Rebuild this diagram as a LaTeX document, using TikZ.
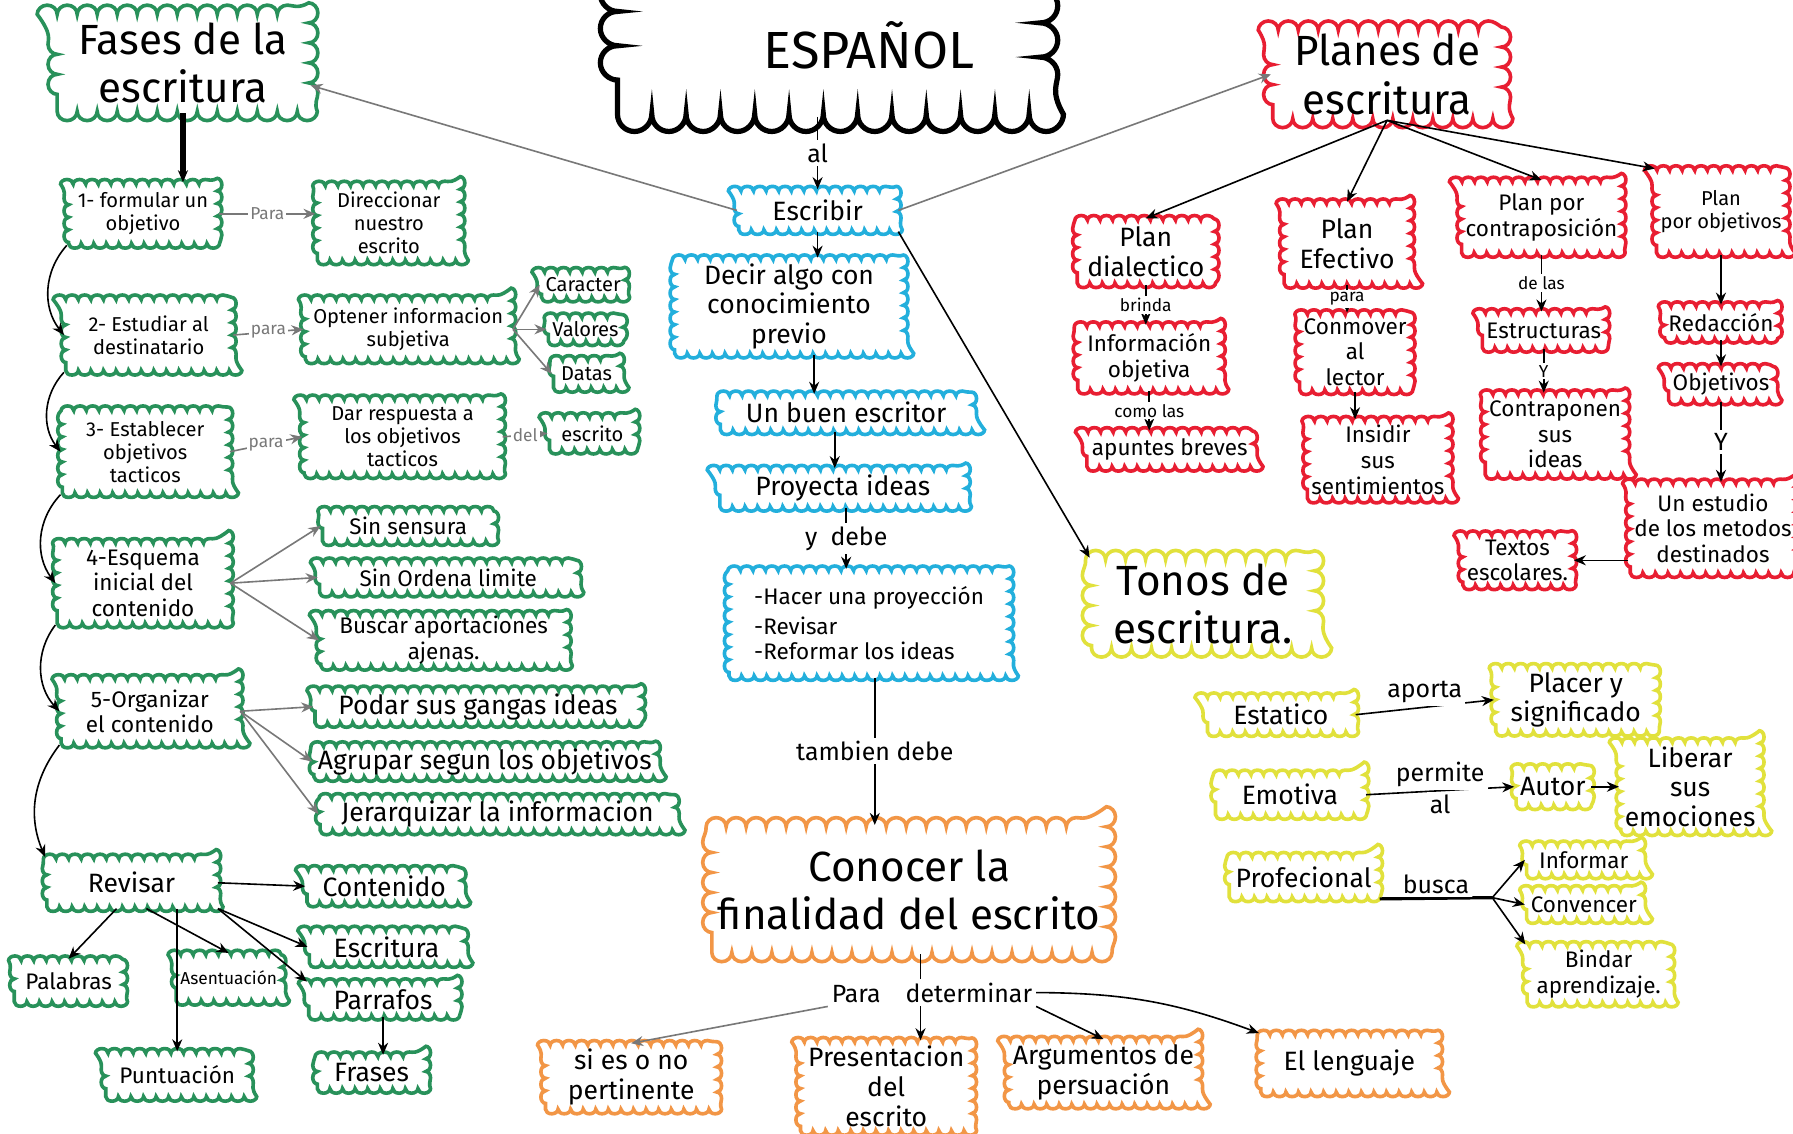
\documentclass[tikz,border=0pt]{standalone}
\usepackage{fontspec}
\setmainfont{Fira Sans}
\usetikzlibrary{decorations.pathmorphing,arrows.meta}

\definecolor{verde}{RGB}{40,145,90}
\definecolor{azul}{RGB}{35,175,220}
\definecolor{rojo}{RGB}{232,30,50}
\definecolor{amarillo}{RGB}{225,225,60}
\definecolor{naranja}{RGB}{242,150,70}
\definecolor{gris}{RGB}{120,120,120}

\begin{document}
\begin{tikzpicture}[
  bubble/.style={draw, line width=0.9pt, fill=white, decorate,
    decoration={bumps, mirror, segment length=2.2mm, amplitude=0.4mm},
    align=center, inner sep=1pt, font=\fontsize{5.6}{6.4}\selectfont},
  fase/.style={bubble, draw=verde},
  escr/.style={bubble, draw=azul},
  plan/.style={bubble, draw=rojo},
  tono/.style={bubble, draw=amarillo},
  fin/.style={bubble, draw=naranja},
  grande/.style={font=\fontsize{10.5}{12}\selectfont, decoration={segment length=3.5mm, amplitude=0.8mm}},
  medio/.style={font=\fontsize{6.6}{7.4}\selectfont},
  chico/.style={font=\fontsize{5}{5.7}\selectfont},
  etiq/.style={font=\fontsize{4.3}{5}\selectfont, inner sep=0.5pt, fill=white},
  etiqm/.style={font=\fontsize{6.2}{7}\selectfont, inner sep=0.8pt, fill=white},
  flecha/.style={-{Stealth[length=3pt,width=2.5pt]}, line width=0.4pt},
]
\clip (0,0) rectangle (15.68,-9.91);
\fill[white] (0,0) rectangle (15.68,-9.91);

% titulo
\node[bubble, draw=black, line width=1.3pt, minimum width=3.7cm, minimum height=2cm,
  decoration={segment length=6mm, amplitude=1.5mm}] (tema) at (7.25,0) {};
\node[font=\fontsize{13}{14}\selectfont] (espanol) at (7.6,-0.40) {ESPAÑOL};
\node[escr, medio, minimum width=1.38cm, minimum height=0.34cm] (escribir) at (7.15,-1.84) {Escribir};

% fases de la escritura
\node[fase, grande, minimum width=2.2cm, minimum height=0.85cm] (fases) at (1.60,-0.55) {Fases de la\\escritura};
\node[fase, chico, minimum width=1.3cm, minimum height=0.52cm] (f1) at (1.25,-1.87) {1- formular un\\objetivo};
\node[fase, chico, minimum width=1.25cm, minimum height=0.65cm] (direccionar) at (3.40,-1.95) {Direccionar\\nuestro\\escrito};
\node[fase, chico, minimum width=1.45cm, minimum height=0.62cm] (f2) at (1.30,-2.93) {2- Estudiar al\\destinatario};
\node[fase, chico, minimum width=1.8cm, minimum height=0.52cm] (optener) at (3.57,-2.88) {Optener informacion\\subjetiva};
\node[fase, chico, minimum width=0.65cm, minimum height=0.22cm] (caracter) at (5.10,-2.49) {Caracter};
\node[fase, chico, minimum width=0.65cm, minimum height=0.2cm] (valores) at (5.12,-2.88) {Valores};
\node[fase, chico, minimum width=0.58cm, minimum height=0.24cm] (datas) at (5.13,-3.27) {Datas};
\node[fase, chico, minimum width=1.45cm, minimum height=0.72cm] (f3) at (1.27,-3.95) {3- Establecer\\objetivos\\tacticos};
\node[fase, chico, minimum width=1.72cm, minimum height=0.65cm] (dar) at (3.52,-3.82) {Dar respuesta a\\los objetivos\\tacticos};
\node[fase, chico, minimum width=0.75cm, minimum height=0.28cm] (escritoA) at (5.18,-3.79) {escrito};
\node[fase, minimum width=1.5cm, minimum height=0.7cm] (f4) at (1.25,-5.10) {4-Esquema\\inicial del\\contenido};
\node[fase, inner ysep=0.5pt, minimum width=1.5cm, minimum height=0.26cm] (sinsensura) at (3.57,-4.60) {Sin sensura};
\node[fase, inner ysep=0.5pt, minimum width=2.25cm, minimum height=0.26cm] (sinorden) at (3.92,-5.05) {Sin Ordena limite};
\node[fase, inner ysep=0.3pt, minimum width=2.15cm, minimum height=0.36cm] (buscar) at (3.88,-5.60) {Buscar aportaciones\\ajenas.};
\node[fase, minimum width=1.55cm, minimum height=0.56cm] (f5) at (1.31,-6.22) {5-Organizar\\el contenido};
\node[fase, medio, inner ysep=0.5pt, minimum width=2.85cm, minimum height=0.28cm] (podar) at (4.18,-6.18) {Podar sus gangas ideas};
\node[fase, medio, inner ysep=0.5pt, minimum width=2.9cm, minimum height=0.26cm] (agrupar) at (4.24,-6.66) {Agrupar segun los objetivos};
\node[fase, medio, inner ysep=0.5pt, minimum width=3.1cm, minimum height=0.28cm] (jerarquizar) at (4.35,-7.12) {Jerarquizar la informacion};
\node[fase, medio, minimum width=1.48cm, minimum height=0.42cm] (revisar) at (1.15,-7.72) {Revisar};
\node[fase, medio, minimum width=1.35cm, minimum height=0.28cm] (contenido) at (3.36,-7.75) {Contenido};
\node[fase, medio, minimum width=1.35cm, minimum height=0.28cm] (escritura) at (3.38,-8.28) {Escritura};
\node[fase, medio, minimum width=1.3cm, minimum height=0.28cm] (parrafos) at (3.35,-8.74) {Parrafos};
\node[fase, medio, minimum width=0.95cm, minimum height=0.28cm] (frases) at (3.25,-9.38) {Frases};
\node[fase, minimum width=0.95cm, minimum height=0.36cm] (palabras) at (0.60,-8.58) {Palabras};
\node[fase, font=\fontsize{4.3}{5}\selectfont, minimum width=0.92cm, minimum height=0.4cm] (acentuacion) at (2.00,-8.55) {Asentuación};
\node[fase, minimum width=1.25cm, minimum height=0.38cm] (puntuacion) at (1.55,-9.40) {Puntuación};

% escribir
\node[escr, medio, minimum width=2.0cm, minimum height=0.78cm] (decir) at (6.90,-2.68) {Decir algo con\\conocimiento\\previo};
\node[escr, medio, minimum width=2.2cm, minimum height=0.3cm] (buen) at (7.40,-3.61) {Un buen escritor};
\node[escr, medio, minimum width=2.15cm, minimum height=0.32cm] (proyecta) at (7.37,-4.27) {Proyecta ideas};
\node[escr, align=left, minimum width=2.45cm, minimum height=0.92cm] (hacer) at (7.60,-5.45) {-Hacer una proyección\\[1pt]-Revisar\\-Reformar los ideas};

% finalidad
\node[fin, grande, minimum width=3.45cm, minimum height=1.1cm] (conocer) at (7.95,-7.78) {Conocer la\\finalidad del escrito};
\node[etiqm] (paradet) at (8.15,-8.68) {Para\quad determinar};
\node[fin, medio, minimum width=1.5cm, minimum height=0.5cm] (pertinente) at (5.52,-9.42) {si es o no\\pertinente};
\node[fin, medio, minimum width=1.5cm, minimum height=0.7cm] (presentacion) at (7.75,-9.50) {Presentacion\\del\\escrito};
\node[fin, medio, minimum width=1.65cm, minimum height=0.55cm] (argumentos) at (9.65,-9.38) {Argumentos de\\persuación};
\node[fin, medio, minimum width=1.55cm, minimum height=0.5cm] (lenguaje) at (11.80,-9.30) {El lenguaje};

% planes de escritura
\node[plan, grande, minimum width=2.0cm, minimum height=0.72cm] (planes) at (12.13,-0.65) {Planes de\\escritura};
\node[plan, medio, minimum width=1.2cm, minimum height=0.55cm] (pdial) at (10.02,-2.20) {Plan\\dialectico};
\node[plan, medio, minimum width=1.1cm, minimum height=0.7cm] (pefec) at (11.78,-2.13) {Plan\\Efectivo};
\node[plan, minimum width=1.25cm, minimum height=0.62cm] (pcontra) at (13.48,-1.90) {Plan por\\contraposición};
\node[plan, chico, minimum width=1.1cm, minimum height=0.72cm] (pobj) at (15.05,-1.85) {Plan\\por objetivos};
\node[plan, minimum width=1.25cm, minimum height=0.55cm] (info) at (10.05,-3.13) {Información\\objetiva};
\node[plan, minimum width=1.45cm, minimum height=0.3cm] (apuntes) at (10.23,-3.93) {apuntes breves};
\node[plan, minimum width=0.9cm, minimum height=0.6cm] (conmover) at (11.85,-3.08) {Conmover\\al\\lector};
\node[plan, minimum width=1.1cm, minimum height=0.65cm] (insidir) at (12.05,-4.02) {Insidir\\sus\\sentimientos};
\node[plan, minimum width=1.05cm, minimum height=0.3cm] (estructuras) at (13.50,-2.89) {Estructuras};
\node[plan, minimum width=1.05cm, minimum height=0.7cm] (contraponen) at (13.60,-3.80) {Contraponen\\sus\\ideas};
\node[plan, minimum width=0.95cm, minimum height=0.28cm] (redaccion) at (15.05,-2.82) {Redacción};
\node[plan, minimum width=0.88cm, minimum height=0.28cm] (objetivos) at (15.05,-3.36) {Objetivos};
\node[plan, minimum width=1.35cm, minimum height=0.78cm] (estudio) at (14.98,-4.62) {Un estudio\\de los metodos\\destinados};
\node[plan, minimum width=0.72cm, minimum height=0.4cm] (textos) at (13.27,-4.90) {Textos\\escolares.};

% tonos de escritura
\node[tono, grande, minimum width=1.95cm, minimum height=0.7cm] (tonos) at (10.52,-5.28) {Tonos de\\escritura.};
\node[tono, medio, minimum width=1.28cm, minimum height=0.3cm] (estatico) at (11.20,-6.25) {Estatico};
\node[tono, medio, minimum width=1.4cm, minimum height=0.5cm] (placer) at (13.78,-6.12) {Placer y\\significado};
\node[tono, medio, minimum width=1.3cm, minimum height=0.35cm] (emotiva) at (11.28,-6.95) {Emotiva};
\node[tono, medio, minimum width=0.62cm, minimum height=0.32cm] (autor) at (13.58,-6.88) {Autor};
\node[tono, medio, minimum width=1.1cm, minimum height=0.62cm] (liberar) at (14.78,-6.88) {Liberar\\sus\\emociones};
\node[tono, medio, minimum width=1.3cm, minimum height=0.35cm] (profecional) at (11.40,-7.67) {Profecional};
\node[tono, minimum width=1.0cm, minimum height=0.25cm] (informar) at (13.85,-7.52) {Informar};
\node[tono, minimum width=1.0cm, minimum height=0.25cm] (convencer) at (13.85,-7.91) {Convencer};
\node[tono, minimum width=1.25cm, minimum height=0.45cm] (bindar) at (13.98,-8.52) {Bindar\\aprendizaje.};
\coordinate (rama) at (13.05,-7.85);

% conectores del centro
\draw[flecha] (escribir.north |- tema.south) -- (escribir.north) node[midway, etiqm]{al};
\draw[flecha, gris] (escribir.west) -- (fases.-10);
\draw[flecha, gris] (escribir.east) -- (planes.west);
\draw[flecha] (escribir.south east) -- (tonos.north west);
\draw[flecha] (escribir.south) -- (escribir.south |- decir.north);
\draw[flecha] (decir.south -| 7.12,0) -- (buen.north -| 7.12,0);
\draw[flecha] (buen.south -| 7.30,0) -- (proyecta.north -| 7.30,0);
\draw[flecha] (proyecta.south -| 7.40,0) -- (hacer.north -| 7.40,0) node[midway, etiqm]{y\ \ debe};
\draw[flecha] (hacer.south -| 7.65,0) -- (conocer.north -| 7.65,0) node[midway, etiqm]{tambien debe};
\draw (conocer.south -| 8.05,0) -- (paradet.north -| 8.05,0);
\draw[flecha] (paradet.south -| 8.05,0) -- (presentacion.north -| 8.05,0);
\draw[flecha, gris] (paradet.south west) -- (pertinente.north);
\draw[flecha] (paradet.south east) -- (argumentos.north);
\draw[flecha] (paradet.east) to[bend left=10] (lenguaje.north west);

% conectores de las fases
\draw[flecha, line width=1.3pt] (fases.south) -- (fases.south |- f1.north);
\draw[flecha] (f1.south west) to[bend right=40] (f2.west);
\draw[flecha] (f2.south west) to[bend right=40] (f3.west);
\draw[flecha] (f3.south west) to[bend right=40] (f4.west);
\draw[flecha] (f4.south west) to[bend right=40] (f5.west);
\draw[flecha] (f5.south west) to[bend right=30] (revisar.north west);
\draw[flecha, gris] (f1.east) -- (direccionar.west |- f1.east) node[midway, etiq]{Para};
\draw[flecha, gris] (f2.east) -- (optener.west) node[midway, etiq]{para};
\draw[flecha, gris] (optener.east) -- (caracter.west);
\draw[flecha, gris] (optener.east) -- (valores.west);
\draw[flecha, gris] (optener.east) -- (datas.west);
\draw[flecha, gris] (f3.east) -- (dar.west) node[midway, etiq]{para};
\draw[flecha, gris] (dar.east) -- (escritoA.west) node[midway, etiq]{del};
\draw[flecha, gris] (f4.east) -- (sinsensura.west);
\draw[flecha, gris] (f4.east) -- (sinorden.west);
\draw[flecha, gris] (f4.east) -- (buscar.west);
\draw[flecha, gris] (f5.east) -- (podar.west);
\draw[flecha, gris] (f5.east) -- (agrupar.west);
\draw[flecha, gris] (f5.east) -- (jerarquizar.west);
\draw[flecha] (revisar.east) -- (contenido.west);
\draw[flecha] (revisar.south east) -- (escritura.west);
\draw[flecha] (revisar.south east) -- (parrafos.north west);
\draw[flecha] (revisar.-120) -- (palabras.north);
\draw[flecha] (revisar.-60) -- (acentuacion.north);
\draw[flecha] (revisar.south -| puntuacion.north) -- (puntuacion.north);
\draw[flecha] (parrafos.south) -- (parrafos.south |- frases.north);

% conectores de los planes
\draw[flecha] (planes.south) -- (pdial.north);
\draw[flecha] (planes.south) -- (pefec.north);
\draw[flecha] (planes.south) -- (pcontra.north);
\draw[flecha] (planes.south) -- (pobj.north west);
\draw[flecha] (pdial.south) -- (pdial.south |- info.north) node[midway, etiq]{brinda};
\draw[flecha] (info.south) -- (info.south |- apuntes.north) node[midway, etiq]{como las};
\draw[flecha] (pefec.south) -- (pefec.south |- conmover.north) node[midway, etiq]{para};
\draw[flecha] (conmover.south) -- (conmover.south |- insidir.north);
\draw[flecha] (pcontra.south) -- (pcontra.south |- estructuras.north) node[midway, etiq]{de las};
\draw[flecha] (estructuras.south) -- (estructuras.south |- contraponen.north) node[midway, etiq]{Y};
\draw[flecha] (pobj.south -| redaccion.north) -- (redaccion.north);
\draw[flecha] (redaccion.south) -- (objetivos.north);
\draw[flecha] (objetivos.south) -- (objetivos.south |- estudio.north) node[midway, etiqm]{Y};
\draw[flecha] (estudio.west |- textos.east) -- (textos.east);

% conectores de los tonos
\draw[flecha] (estatico.east) -- (placer.west) node[midway, above, etiqm]{aporta};
\draw[flecha] (emotiva.east) -- (autor.west) node[midway, above, etiqm]{permite} node[midway, below, etiqm]{al};
\draw[flecha] (autor.east) -- (liberar.west);
\draw[line width=0.8pt] (profecional.south east) -- (rama) node[midway, above, etiqm]{busca};
\draw[flecha] (rama) -- (informar.west);
\draw[flecha] (rama) -- (convencer.west);
\draw[flecha] (rama) -- (bindar.north west);
\end{tikzpicture}
\end{document}
